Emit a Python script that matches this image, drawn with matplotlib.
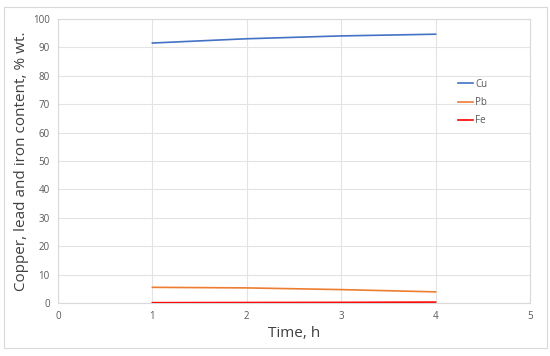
import matplotlib
matplotlib.use("Agg")
from matplotlib import pyplot as plt
from matplotlib.patches import Rectangle

plt.rcParams['font.family'] = ['Open Sans', 'DejaVu Sans']

# data
time_h = [1, 2, 3, 4]
cu = [91.5, 93.0, 94.0, 94.6]
pb = [5.5, 5.3, 4.7, 3.9]
fe = [0.1, 0.15, 0.2, 0.3]

fig = plt.figure(figsize=(5.5, 3.56), dpi=100)
ax = fig.add_axes([0.1055, 0.149, 0.858, 0.798])

# outer frame of the picture
fig.patches.append(Rectangle((0.007, 0.0225), 0.987, 0.958, transform=fig.transFigure,
                             fill=False, edgecolor="#d9d9d9", linewidth=0.8))

ax.plot(time_h, cu, color="#4472C4", linewidth=1.2, label="Cu")
ax.plot(time_h, pb, color="#ED7D31", linewidth=1.2, label="Pb")
ax.plot(time_h, fe, color="#FF0000", linewidth=1.2, label="Fe")

ax.set_xlim(0, 5)
ax.set_ylim(0, 100)
ax.set_xticks(range(0, 6))
ax.set_yticks(range(0, 101, 10))
ax.grid(color="#e3e3e3", linewidth=0.8)
ax.set_axisbelow(True)
for s in ax.spines.values():
    s.set_color("#d9d9d9")
    s.set_linewidth(0.8)
ax.tick_params(length=0, labelsize=7, labelcolor="#595959", pad=6)

ax.set_xlabel("Time, h", fontsize=11, color="#404040", labelpad=3)
ax.set_ylabel("Copper, lead and iron content, % wt.", fontsize=11, color="#404040", labelpad=3)

leg = ax.legend(loc="upper left", bbox_to_anchor=(0.83, 0.82), frameon=False,
                fontsize=7, handlelength=1.5, handletextpad=0.2, labelspacing=0.75)
for t in leg.get_texts():
    t.set_color("#595959")

plt.savefig("out.png", dpi=100)
